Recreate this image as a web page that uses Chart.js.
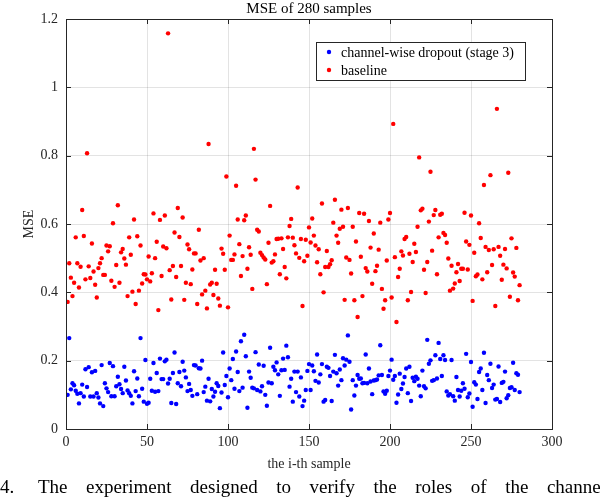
<!DOCTYPE html>
<html>
<head>
<meta charset="utf-8">
<script src="https://cdn.jsdelivr.net/npm/chart.js@4.4.0/dist/chart.umd.min.js"></script>
<style>
body { margin: 0; background: #fff; }
canvas { display: block; }
</style>
</head>
<body>
<canvas id="mseChart" width="600" height="498"></canvas>
<script>
// Sample indices 1..280 (the x categories)
const sampleIds = Array.from({ length: 280 }, (_, i) => i + 1);
const xTicks = [0, 50, 100, 150, 200, 250, 300];
const yTicks = [0, 0.2, 0.4, 0.6, 0.8, 1, 1.2];

// MSE per sample
const dropoutMse = [
    0.100, 0.266, 0.116, 0.134, 0.128, 0.112, 0.103, 0.075, 0.105, 0.130,
    0.095, 0.175, 0.123, 0.181, 0.095, 0.166, 0.095, 0.170, 0.105, 0.092,
    0.075, 0.187, 0.067, 0.134, 0.119, 0.108, 0.193, 0.096, 0.184, 0.096,
    0.125, 0.153, 0.131, 0.117, 0.105, 0.182, 0.142, 0.113, 0.105, 0.097,
    0.075, 0.169, 0.111, 0.148, 0.096, 0.266, 0.118, 0.080, 0.202, 0.074,
    0.077, 0.147, 0.112, 0.193, 0.109, 0.164, 0.111, 0.206, 0.146, 0.146,
    0.198, 0.203, 0.133, 0.147, 0.076, 0.164, 0.224, 0.073, 0.134, 0.167,
    0.125, 0.197, 0.171, 0.151, 0.111, 0.132, 0.114, 0.097, 0.187, 0.186,
    0.102, 0.178, 0.177, 0.200, 0.108, 0.124, 0.083, 0.147, 0.081, 0.117,
    0.095, 0.109, 0.134, 0.126, 0.061, 0.107, 0.224, 0.129, 0.155, 0.093,
    0.177, 0.143, 0.205, 0.118, 0.227, 0.167, 0.111, 0.257, 0.121, 0.276,
    0.213, 0.062, 0.168, 0.150, 0.121, 0.119, 0.225, 0.114, 0.189, 0.110,
    0.125, 0.185, 0.100, 0.068, 0.136, 0.238, 0.134, 0.182, 0.172, 0.195,
    0.160, 0.097, 0.172, 0.206, 0.173, 0.244, 0.210, 0.124, 0.147, 0.080,
    0.168, 0.108, 0.168, 0.095, 0.151, 0.067, 0.083, 0.114, 0.170, 0.190,
    0.114, 0.186, 0.169, 0.141, 0.218, 0.136, 0.160, 0.190, 0.080, 0.085,
    0.182, 0.179, 0.155, 0.082, 0.168, 0.217, 0.163, 0.127, 0.174, 0.143,
    0.207, 0.186, 0.203, 0.274, 0.197, 0.057, 0.143, 0.098, 0.127, 0.158,
    0.147, 0.148, 0.134, 0.135, 0.218, 0.134, 0.177, 0.139, 0.102, 0.142,
    0.143, 0.145, 0.157, 0.245, 0.158, 0.110, 0.103, 0.112, 0.155, 0.171,
    0.203, 0.144, 0.155, 0.077, 0.101, 0.162, 0.117, 0.133, 0.152, 0.177,
    0.105, 0.182, 0.082, 0.150, 0.140, 0.153, 0.147, 0.127, 0.096, 0.171,
    0.125, 0.119, 0.261, 0.191, 0.201, 0.141, 0.143, 0.216, 0.148, 0.252,
    0.205, 0.155, 0.216, 0.202, 0.110, 0.098, 0.102, 0.202, 0.096, 0.083,
    0.152, 0.114, 0.095, 0.112, 0.134, 0.118, 0.220, 0.093, 0.104, 0.196,
    0.065, 0.137, 0.130, 0.088, 0.167, 0.177, 0.114, 0.223, 0.076, 0.158,
    0.143, 0.191, 0.120, 0.130, 0.086, 0.088, 0.183, 0.079, 0.135, 0.138,
    0.168, 0.090, 0.099, 0.120, 0.122, 0.194, 0.114, 0.163, 0.159, 0.108
];

const baselineMse = [
    0.372, 0.485, 0.443, 0.389, 0.428, 0.561, 0.485, 0.414, 0.475, 0.641,
    0.565, 0.438, 0.807, 0.476, 0.442, 0.543, 0.461, 0.422, 0.385, 0.471,
    0.485, 0.500, 0.451, 0.451, 0.537, 0.520, 0.535, 0.434, 0.602, 0.416,
    0.480, 0.655, 0.428, 0.517, 0.527, 0.499, 0.481, 0.389, 0.561, 0.510,
    0.402, 0.613, 0.366, 0.564, 0.405, 0.537, 0.426, 0.453, 0.452, 0.438,
    0.505, 0.432, 0.456, 0.631, 0.500, 0.548, 0.348, 0.612, 0.448, 0.534,
    0.625, 0.529, 1.158, 0.465, 0.379, 0.477, 0.575, 0.445, 0.647, 0.562,
    0.477, 0.619, 0.378, 0.428, 0.540, 0.526, 0.424, 0.467, 0.514, 0.514,
    0.366, 0.583, 0.493, 0.394, 0.500, 0.405, 0.353, 0.834, 0.423, 0.428,
    0.392, 0.466, 0.425, 0.382, 0.361, 0.528, 0.513, 0.466, 0.739, 0.356,
    0.566, 0.495, 0.495, 0.511, 0.712, 0.613, 0.541, 0.448, 0.506, 0.611,
    0.625, 0.469, 0.532, 0.510, 0.410, 0.820, 0.730, 0.583, 0.578, 0.516,
    0.509, 0.502, 0.496, 0.424, 0.545, 0.653, 0.487, 0.491, 0.511, 0.556,
    0.557, 0.453, 0.558, 0.527, 0.474, 0.441, 0.561, 0.594, 0.615, 0.560,
    0.538, 0.514, 0.707, 0.501, 0.556, 0.360, 0.491, 0.554, 0.507, 0.590,
    0.546, 0.616, 0.566, 0.537, 0.488, 0.526, 0.453, 0.660, 0.400, 0.474,
    0.521, 0.474, 0.482, 0.494, 0.604, 0.671, 0.566, 0.545, 0.586, 0.642,
    0.592, 0.378, 0.502, 0.647, 0.495, 0.455, 0.592, 0.377, 0.549, 0.328,
    0.632, 0.504, 0.389, 0.630, 0.471, 0.461, 0.609, 0.531, 0.425, 0.572,
    0.462, 0.478, 0.525, 0.604, 0.410, 0.352, 0.377, 0.493, 0.613, 0.632,
    0.385, 0.893, 0.503, 0.313, 0.445, 0.469, 0.520, 0.508, 0.556, 0.562,
    0.377, 0.513, 0.401, 0.489, 0.542, 0.518, 0.592, 0.795, 0.640, 0.645,
    0.466, 0.398, 0.489, 0.607, 0.753, 0.522, 0.626, 0.641, 0.453, 0.561,
    0.627, 0.630, 0.574, 0.568, 0.545, 0.499, 0.405, 0.478, 0.411, 0.426,
    0.459, 0.483, 0.433, 0.469, 0.469, 0.633, 0.549, 0.467, 0.539, 0.625,
    0.375, 0.516, 0.447, 0.452, 0.602, 0.559, 0.438, 0.714, 0.533, 0.459,
    0.524, 0.743, 0.480, 0.526, 0.360, 0.937, 0.533, 0.507, 0.437, 0.481,
    0.527, 0.470, 0.750, 0.387, 0.558, 0.458, 0.446, 0.530, 0.377, 0.421
];

const seriesLabels = ['channel-wise dropout (stage 3)', 'baseline'];
const seriesColors = ['#0000ff', '#ff0000'];
const captionWords = ['The', 'experiment', 'designed', 'to', 'verify', 'the', 'roles', 'of', 'the', 'channel'];

const serif = '"Liberation Serif", "Times New Roman", serif';
const axisColor = '#262626';

// MATLAB style box, inward ticks, legend and texts
const figureDecor = {
    id: 'figureDecor',
    afterDraw(chart) {
        const ctx = chart.ctx;
        const area = chart.chartArea;
        const xs = chart.scales.x;
        const ys = chart.scales.y;
        ctx.save();

        // inward ticks
        ctx.strokeStyle = axisColor;
        ctx.lineWidth = 1;
        ctx.beginPath();
        xTicks.forEach(v => {
            const px = Math.round(xs.getPixelForValue(v)) + 0.5;
            ctx.moveTo(px, area.bottom); ctx.lineTo(px, area.bottom - 5);
            ctx.moveTo(px, area.top); ctx.lineTo(px, area.top + 5);
        });
        yTicks.forEach(v => {
            const py = Math.round(ys.getPixelForValue(v)) + 0.5;
            ctx.moveTo(area.left, py); ctx.lineTo(area.left + 5, py);
            ctx.moveTo(area.right, py); ctx.lineTo(area.right - 5, py);
        });
        ctx.stroke();

        // box
        ctx.strokeRect(Math.round(area.left) + 0.5, Math.round(area.top) + 0.5,
            Math.round(area.right - area.left), Math.round(area.bottom - area.top));

        // legend
        ctx.fillStyle = '#fff';
        ctx.fillRect(316.5, 42.5, 209, 38);
        ctx.strokeRect(316.5, 42.5, 209, 38);
        ctx.font = '14px ' + serif;
        ctx.textBaseline = 'middle';
        ctx.textAlign = 'left';
        seriesLabels.forEach((label, i) => {
            const y = 52 + i * 18;
            ctx.fillStyle = seriesColors[i];
            ctx.beginPath();
            ctx.arc(329, y, 2.2, 0, Math.PI * 2);
            ctx.fill();
            ctx.fillStyle = '#000';
            ctx.fillText(label, 341, y + 1);
        });

        // title
        ctx.fillStyle = '#000';
        ctx.textAlign = 'center';
        ctx.textBaseline = 'alphabetic';
        ctx.font = '15px ' + serif;
        ctx.fillText('MSE of 280 samples', (area.left + area.right) / 2, 13);

        // axis titles
        ctx.font = '14px ' + serif;
        ctx.fillStyle = axisColor;
        ctx.fillText('the i-th sample', (area.left + area.right) / 2, 468);
        ctx.save();
        ctx.translate(33, (area.top + area.bottom) / 2);
        ctx.rotate(-Math.PI / 2);
        ctx.fillText('MSE', 0, 0);
        ctx.restore();

        // caption line below the figure, justified like the paper text
        ctx.fillStyle = '#000';
        ctx.textAlign = 'left';
        ctx.font = '19px ' + serif;
        ctx.fillText('4.', 0, 493);
        const startX = 38, endX = 606;
        const widths = captionWords.map(w => ctx.measureText(w).width);
        const gap = (endX - startX - widths.reduce((a, b) => a + b, 0)) / (captionWords.length - 1);
        let cx = startX;
        captionWords.forEach((w, i) => {
            ctx.fillText(w, cx, 493);
            cx += widths[i] + gap;
        });

        ctx.restore();
    }
};

const ctx = document.getElementById('mseChart').getContext('2d');
const mseChart = new Chart(ctx, {
    type: 'scatter',
    data: {
        datasets: [{
            label: seriesLabels[0],
            data: sampleIds.map((s, i) => ({ x: s, y: dropoutMse[i] })),
            backgroundColor: seriesColors[0],
            borderWidth: 0,
            pointRadius: 2.2
        },
        {
            label: seriesLabels[1],
            data: sampleIds.map((s, i) => ({ x: s, y: baselineMse[i] })),
            backgroundColor: seriesColors[1],
            borderWidth: 0,
            pointRadius: 2.2
        }]
    },
    options: {
        responsive: false,
        animation: false,
        devicePixelRatio: 1,
        layout: { padding: { left: 0, top: 19, right: 48, bottom: 0 } },
        plugins: {
            legend: { display: false },
            tooltip: { enabled: false },
            title: { display: false }
        },
        scales: {
            x: {
                type: 'linear',
                min: 0,
                max: 300,
                afterFit: scale => { scale.height = 69; },
                afterBuildTicks: scale => { scale.ticks = xTicks.map(v => ({ value: v })); },
                grid: { color: 'rgba(38,38,38,0.13)', drawTicks: false },
                border: { display: false },
                ticks: {
                    color: axisColor,
                    padding: 5,
                    maxRotation: 0,
                    font: { family: serif, size: 14 }
                }
            },
            y: {
                min: 0,
                max: 1.2,
                afterFit: scale => { scale.width = 66; },
                afterBuildTicks: scale => { scale.ticks = yTicks.map(v => ({ value: v })); },
                grid: { color: 'rgba(38,38,38,0.13)', drawTicks: false },
                border: { display: false },
                ticks: {
                    color: axisColor,
                    padding: 8,
                    font: { family: serif, size: 14 },
                    callback: v => String(Number(v.toFixed(1)))
                }
            }
        }
    },
    plugins: [figureDecor]
});
</script>
</body>
</html>
